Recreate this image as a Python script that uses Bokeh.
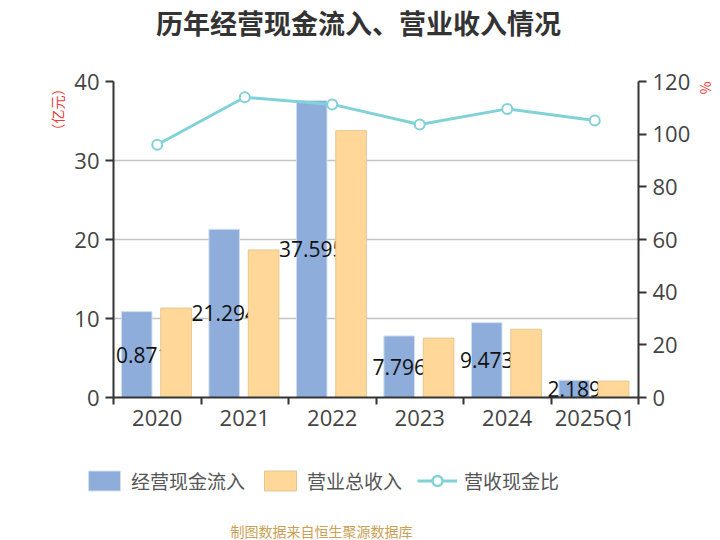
import math
from bokeh.plotting import figure
from bokeh.layouts import column, row
from bokeh.models import (Range1d, LinearAxis, FixedTicker, ColumnDataSource,
                          Legend, LegendItem, Label, Grid, Title)
from bokeh.transform import dodge
from bokeh.core.properties import value
from bokeh.embed import file_html
from bokeh.resources import INLINE

# ---------------- data ----------------
categories = ["2020", "2021", "2022", "2023", "2024", "2025Q1"]
cash_inflow = [10.871, 21.294, 37.595, 7.796, 9.473, 2.189]      # 经营现金流入 (亿元)
revenue = [11.32, 18.68, 33.78, 7.52, 8.64, 2.08]                # 营业总收入 (亿元)
ratio = [96.0, 114.0, 111.3, 103.7, 109.6, 105.2]                # 营收现金比 (%)
cash_labels = ["10.871", "21.294", "37.595", "7.796", "9.473", "2.189"]
left_ticks = [0, 10, 20, 30, 40]
right_ticks = [0, 20, 40, 60, 80, 100, 120]

title_text = "历年经营现金流入、营业收入情况"
footer_text = "制图数据来自恒生聚源数据库"
series_names = ["经营现金流入", "营业总收入", "营收现金比"]
left_unit = "（亿元）"
right_unit = "%"

# ---------------- styles ----------------
BLUE = "#8eaddb"
ORANGE = "#ffd899"
TEAL = "#80d2d8"
AXIS = "#333333"
TICKTXT = "#444444"
RED = "#ee3b3b"
CJK = "Noto Sans CJK SC"
NUM = "Open Sans"
W = 720
TOP_H, MAIN_H, BOT_H = 46, 406, 88


def blank_fig(h):
    f = figure(width=W, height=h, output_backend="svg", toolbar_location=None,
               x_range=Range1d(0, W), y_range=Range1d(0, h),
               x_axis_location=None, y_axis_location=None, title=None,
               min_border=0, min_border_left=0, min_border_right=0,
               min_border_top=0, min_border_bottom=0)
    f.outline_line_color = None
    f.center = []
    return f


# ---------------- title strip ----------------
top = blank_fig(TOP_H)
top.add_layout(Label(x=358, y=TOP_H - 22, text=title_text, text_align="center",
                     text_baseline="middle", text_font=CJK, text_font_size="27px",
                     text_font_style="bold", text_color="#333333"))

# ---------------- main chart ----------------
n = len(categories)
centers = [i + 0.5 for i in range(n)]   # category slot centres on a 0..n index scale
src = ColumnDataSource(dict(
    xc=centers,
    cash=cash_inflow,
    half=[v / 2 for v in cash_inflow],
    lab=cash_labels,
    rev=revenue,
    ratio=ratio,
))

p = figure(width=W, height=MAIN_H, output_backend="svg", toolbar_location=None,
           x_range=Range1d(0, n), y_range=Range1d(0, 40),
           x_axis_location=None, y_axis_location=None, title=None,
           min_border_left=113, min_border_right=80, min_border_top=35, min_border_bottom=55)
p.outline_line_color = None
p.center = []
p.extra_y_ranges = {"pct": Range1d(0, 120)}

p.add_layout(Grid(dimension=1, ticker=FixedTicker(ticks=left_ticks),
                  grid_line_color="#c4c4c4", grid_line_width=1.5))

b1 = p.vbar(x=dodge("xc", -0.235), top="cash", width=0.35, source=src,
            fill_color=BLUE, line_color="#d4e0f0", line_width=1)
p.text(x=dodge("xc", -0.235), y="half", text="lab", source=src,
       text_font=value(NUM), text_font_size="21px", text_color="#111111",
       text_align="center", text_baseline="middle")
b2 = p.vbar(x=dodge("xc", 0.215), top="rev", width=0.35, source=src,
            fill_color=ORANGE, line_color="#e6c690", line_width=1)

p.line(x="xc", y="ratio", y_range_name="pct", source=src, line_color=TEAL, line_width=3)
p.scatter(x="xc", y="ratio", y_range_name="pct", source=src, marker="circle", size=10,
          fill_color="white", line_color=TEAL, line_width=2)

xaxis = LinearAxis(ticker=FixedTicker(ticks=centers, minor_ticks=list(range(n + 1))),
                   major_label_overrides={c: lab for c, lab in zip(centers, categories)})
xaxis.major_tick_out = 0
xaxis.major_tick_in = 0
xaxis.minor_tick_out = 7
xaxis.minor_tick_in = 0
xaxis.minor_tick_line_color = AXIS
xaxis.minor_tick_line_width = 2
xaxis.axis_line_color = AXIS
xaxis.axis_line_width = 2
xaxis.major_label_standoff = -3
xaxis.major_label_text_font = NUM
xaxis.major_label_text_font_size = "22px"
xaxis.major_label_text_color = TICKTXT
p.add_layout(xaxis, "below")

yl = LinearAxis(ticker=FixedTicker(ticks=left_ticks))
yr = LinearAxis(y_range_name="pct", ticker=FixedTicker(ticks=right_ticks))
for ax in (yl, yr):
    ax.major_tick_out = 8
    ax.major_tick_in = 0
    ax.minor_tick_out = 0
    ax.minor_tick_in = 0
    ax.major_tick_line_color = AXIS
    ax.major_tick_line_width = 2
    ax.axis_line_color = AXIS
    ax.axis_line_width = 2
    ax.major_label_standoff = 6
    ax.major_label_text_font = NUM
    ax.major_label_text_font_size = "22px"
    ax.major_label_text_color = TICKTXT
p.add_layout(yl, "left")
p.add_layout(yr, "right")

p.add_layout(Title(text=left_unit, align="right", text_font=CJK, text_font_size="14px",
                   text_font_style="normal", text_color=RED, standoff=10), "left")
p.add_layout(Title(text=right_unit, align="left", text_font=CJK, text_font_size="14px",
                   text_font_style="normal", text_color=RED, standoff=5), "right")

# ---------------- legend + footer strip ----------------
bot = blank_fig(BOT_H)
nan = float("nan")
dummy = ColumnDataSource(dict(x=[nan], y=[nan], top=[nan]))
lg_b1 = bot.vbar(x="x", top="top", width=1, source=dummy, fill_color=BLUE, line_color="#d4e0f0")
lg_b2 = bot.vbar(x="x", top="top", width=1, source=dummy, fill_color=ORANGE, line_color="#e6c690")
lg_line = bot.line(x="x", y="y", source=dummy, line_color=TEAL, line_width=3)
lg_pt = bot.scatter(x="x", y="y", source=dummy, marker="circle", size=16,
                    fill_color="white", line_color=TEAL, line_width=2.5)
legend = Legend(items=[LegendItem(label=series_names[0], renderers=[lg_b1]),
                       LegendItem(label=series_names[1], renderers=[lg_b2]),
                       LegendItem(label=series_names[2], renderers=[lg_line, lg_pt])],
                orientation="horizontal", location=(84, 46),
                glyph_width=40, glyph_height=25, label_height=25, label_standoff=7,
                spacing=15, padding=0, margin=0, border_line_color=None,
                background_fill_alpha=0, label_text_font=CJK,
                label_text_font_size="19px", label_text_color="#555555",
                label_text_baseline="middle")
bot.add_layout(legend)
bot.add_layout(Label(x=321, y=10, text=footer_text, text_align="center",
                     text_baseline="middle", text_font=CJK, text_font_size="14px",
                     text_color="#c9a055"))

layout = column(row(top), p, row(bot), spacing=0)
open("out.html", "w").write(file_html(layout, INLINE))
